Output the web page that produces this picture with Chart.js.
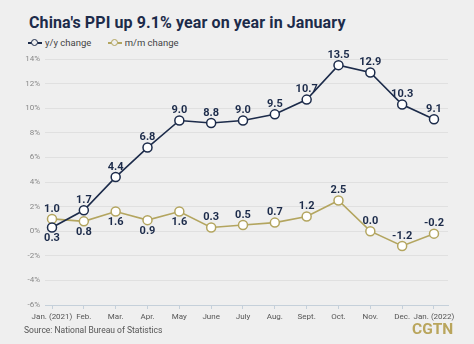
<!DOCTYPE html>
<html>
<head>
<meta charset="utf-8">
<script src="https://cdn.jsdelivr.net/npm/chart.js@4.4.1/dist/chart.umd.min.js"></script>
<style>
  html, body { margin: 0; padding: 0; }
  body { width: 474px; height: 344px; background: #efefef; position: relative; overflow: hidden; font-family: Roboto, "Noto Sans", sans-serif; }
  #chart { position: absolute; left: 0; top: 0; }
  .title { position: absolute; left: 29px; top: 13px; font-size: 16px; font-weight: 700; color: #1c2b4a; white-space: nowrap; letter-spacing: 0.1px; }
  .legend { position: absolute; top: 36px; left: 28px; font-size: 9.5px; color: #444; white-space: nowrap; }
  .legend span { display: inline-block; vertical-align: middle; }
  .item { margin-right: 14px; }
  .icon { position: relative; width: 14px; height: 10px; margin-right: 3px; }
  .icon::before { content: ""; position: absolute; left: 0; right: 0; top: 4px; height: 1.6px; background: var(--c); }
  .icon::after { content: ""; position: absolute; left: 3px; top: 1px; width: 5px; height: 5px; border: 1.6px solid var(--c); border-radius: 50%; background: #efefef; }
  .source { position: absolute; left: 24px; top: 325px; font-size: 8.5px; color: #555; }
  .logo { position: absolute; left: 412px; top: 320px; font-size: 15.5px; font-weight: 700; color: #b9a55c; }
</style>
</head>
<body>
<div class="title">China's PPI up 9.1% year on year in January</div>
<div class="legend">
  <span class="item"><span class="icon" style="--c:#1c2b4a"></span><span>y/y change</span></span>
  <span class="item"><span class="icon" style="--c:#b3a55f"></span><span>m/m change</span></span>
</div>
<canvas id="chart" width="474" height="344"></canvas>
<div class="source">Source: National Bureau of Statistics</div>
<div class="logo">CGTN</div>
<script>
const months = ["Jan. (2021)", "Feb.", "Mar.", "Apr.", "May", "June", "July", "Aug.", "Sept.", "Oct.", "Nov.", "Dec.", "Jan. (2022)"];
const yoy = [0.3, 1.7, 4.4, 6.8, 9.0, 8.8, 9.0, 9.5, 10.7, 13.5, 12.9, 10.3, 9.1];
const mom = [1.0, 0.8, 1.6, 0.9, 1.6, 0.3, 0.5, 0.7, 1.2, 2.5, 0.0, -1.2, -0.2];

const navy = "#1c2b4a";
const gold = "#b3a55f";

// which points get their label under the marker instead of above
const labelsBelow = [[0], [1, 2, 3, 4]];

const pointLabels = {
  id: "pointLabels",
  afterDatasetsDraw(chart) {
    const ctx = chart.ctx;
    ctx.save();
    ctx.font = "bold 11px Roboto, sans-serif";
    ctx.fillStyle = navy;
    ctx.textAlign = "center";
    ctx.textBaseline = "middle";
    chart.data.datasets.forEach((ds, d) => {
      chart.getDatasetMeta(d).data.forEach((pt, i) => {
        const below = labelsBelow[d].includes(i);
        ctx.fillText(ds.data[i].y.toFixed(1), pt.x, pt.y + (below ? 11 : -10));
      });
    });
    ctx.restore();
  }
};

const toPoints = arr => arr.map((v, i) => ({ x: i, y: v }));

new Chart(document.getElementById("chart"), {
  type: "line",
  data: {
    datasets: [
      {
        label: "y/y change",
        data: toPoints(yoy),
        borderColor: navy,
        borderWidth: 1.6,
        pointBackgroundColor: "#ffffff",
        pointBorderColor: navy,
        pointBorderWidth: 1.5,
        pointRadius: 4.5,
        tension: 0
      },
      {
        label: "m/m change",
        data: toPoints(mom),
        borderColor: gold,
        borderWidth: 1.6,
        pointBackgroundColor: "#ffffff",
        pointBorderColor: gold,
        pointBorderWidth: 1.5,
        pointRadius: 4.5,
        tension: 0
      }
    ]
  },
  options: {
    responsive: false,
    animation: false,
    layout: { padding: { left: 0, right: 26, top: 59, bottom: 0 } },
    plugins: {
      legend: { display: false },
      tooltip: { enabled: false }
    },
    scales: {
      x: {
        type: "linear",
        min: -0.22,
        max: 12.44,
        afterBuildTicks: scale => { scale.ticks = months.map((m, i) => ({ value: i })); },
        afterFit: scale => { scale.height = 39; },
        ticks: {
          callback: v => months[v],
          color: "#555",
          font: { size: 8, family: "Roboto" },
          maxRotation: 0,
          autoSkip: false,
          padding: 3
        },
        grid: { drawOnChartArea: false, drawTicks: true, tickLength: 4, color: "#c5d0da" },
        border: { display: true, color: "#c5d0da", width: 1 }
      },
      y: {
        min: -6,
        max: 14,
        afterFit: scale => { scale.width = 45; },
        ticks: {
          stepSize: 2,
          callback: v => v + "%",
          color: "#888",
          font: { size: 8, family: "Roboto" },
          padding: 5
        },
        grid: {
          drawTicks: false,
          color: ctx => ctx.tick.value === -6 ? "rgba(0,0,0,0)" : "#e0e0e0"
        },
        border: { display: false }
      }
    }
  },
  plugins: [pointLabels]
});
</script>
</body>
</html>
